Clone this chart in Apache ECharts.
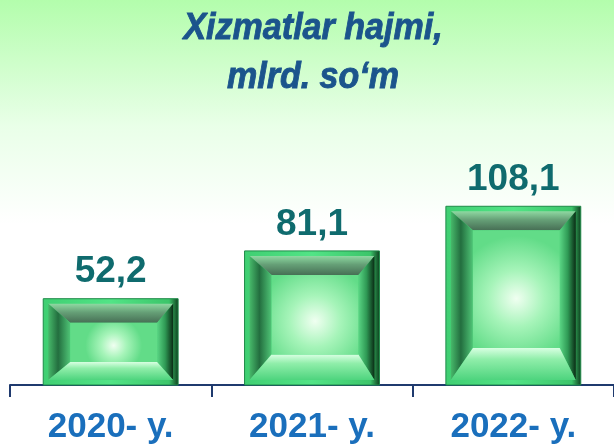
<!DOCTYPE html>
<html>
<head>
<meta charset="utf-8">
<script src="https://cdn.jsdelivr.net/npm/echarts@6/dist/echarts.min.js"></script>
<style>
html,body{margin:0;padding:0;background:#fff;}
#c{width:614px;height:448px;}
</style>
</head>
<body>
<div id="c"></div>
<script>
const titleLines = ['Xizmatlar hajmi,', 'mlrd. so\u2018m'];
const categories = ['2020- y.', '2021- y.', '2022- y.'];
const values = [52.2, 81.1, 108.1];

const FONT = "'Liberation Sans', Arial, Helvetica, sans-serif";
const chart = echarts.init(document.getElementById('c'), null, {renderer: 'canvas'});

function lin(x, y, x2, y2, stops) {
  return {type: 'linear', x: x, y: y, x2: x2, y2: y2, global: false,
    colorStops: stops.map(s => ({offset: s[0], color: s[1]}))};
}

function renderBevel(params, api) {
  const top = api.coord([api.value(0), api.value(1)]);
  const base = api.coord([api.value(0), 0]);
  const w = api.size([1, 0])[0] * 0.67;
  const x0 = top[0] - w / 2, x1 = top[0] + w / 2;
  const y0 = top[1], y1 = base[1];
  const h = y1 - y0;
  const f = 5;
  const ax0 = x0 + f, ax1 = x1 - f, ay0 = y0 + f, ay1 = y1 - f;
  const bl = 22, br = 16, bt = 19;
  const bb = Math.max(18, Math.min(32, h * 0.19));
  const ix0 = ax0 + bl, ix1 = ax1 - br, iy0 = ay0 + bt, iy1 = ay1 - bb;
  const poly = (pts, fill) => ({type: 'polygon', shape: {points: pts}, style: {fill: fill}});
  return {
    type: 'group',
    children: [
      {type: 'rect', shape: {x: x0, y: y0, width: w, height: h},
        style: {fill: lin(0, 0, 1, 0, [[0, '#3fcf72'], [0.5, '#52e486'], [0.93, '#3cc56a'], [1, '#0d3a1c']]),
          stroke: '#1e8a48', lineWidth: 1}},
      poly([[ax0, ay0], [ax1, ay0], [ix1, iy0], [ix0, iy0]],
        lin(0, 0, 0, 1, [[0, '#8fd9a2'], [0.45, '#66a077'], [1, '#476f55']])),
      poly([[ax0, ay0], [ix0, iy0], [ix0, iy1], [ax0, ay1]],
        lin(0, 0, 1, 0, [[0, '#47b96a'], [0.45, '#236e3f'], [1, '#4fc476']])),
      poly([[ax1, ay0], [ax1, ay1], [ix1, iy1], [ix1, iy0]],
        lin(0, 0, 1, 0, [[0, '#5ad584'], [0.5, '#2f9a55'], [1, '#0a2c15']])),
      poly([[ix0, iy1], [ix1, iy1], [ax1, ay1], [ax0, ay1]],
        lin(0, 0, 0, 1, [[0, '#d8ffe2'], [0.35, '#90eeaa'], [1, '#4ed47e']])),
      {type: 'rect', shape: {x: ix0, y: iy0, width: ix1 - ix0, height: iy1 - iy0},
        style: {fill: {type: 'radial', x: 0.5, y: 0.58, r: 0.72, global: false,
          colorStops: [{offset: 0, color: '#f0fff1'}, {offset: 0.45, color: '#a6f4b9'}, {offset: 1, color: '#62dc88'}]}}}
    ]
  };
}

const option = {
  animation: false,
  backgroundColor: lin(0, 0, 0, 1, [[0, '#b3fdac'], [0.28, '#e9ffe8'], [0.5, '#ffffff'], [1, '#ffffff']]),
  graphic: [
    {type: 'text', x: 313, y: 29, scaleX: 0.92, style: {text: titleLines[0], fill: '#1b548c',
      stroke: '#1b548c', lineWidth: 0.9,
      font: 'italic bold 37px ' + FONT, textAlign: 'center', textVerticalAlign: 'middle'}},
    {type: 'text', x: 313, y: 78, scaleX: 0.92, style: {text: titleLines[1], fill: '#1b548c',
      stroke: '#1b548c', lineWidth: 0.9,
      font: 'italic bold 37px ' + FONT, textAlign: 'center', textVerticalAlign: 'middle'}}
  ],
  grid: {left: 10, right: 0, top: 137, bottom: 63, containLabel: false},
  xAxis: {
    type: 'category', data: categories,
    axisLine: {lineStyle: {color: '#1f3a6e', width: 2}},
    axisTick: {show: true, length: 12, inside: false, lineStyle: {color: '#1f3a6e', width: 2}},
    axisLabel: {color: '#1a6fbc', fontSize: 35, fontWeight: 'bold', fontFamily: FONT, margin: 25, interval: 0}
  },
  yAxis: {type: 'value', min: 0, max: 150, show: false, splitLine: {show: false}},
  series: [
    {type: 'bar', data: values, barWidth: '67%', itemStyle: {color: 'rgba(0,0,0,0)'},
      label: {show: true, position: 'top', distance: 8, color: '#0f6b6e', fontSize: 37, fontWeight: 'bold',
        fontFamily: FONT, formatter: p => String(p.value).replace('.', ',')}},
    {type: 'custom', renderItem: renderBevel, z: 3,
      data: values.map((v, i) => [i, v]), encode: {x: 0, y: 1}}
  ]
};
chart.setOption(option);
</script>
</body>
</html>
